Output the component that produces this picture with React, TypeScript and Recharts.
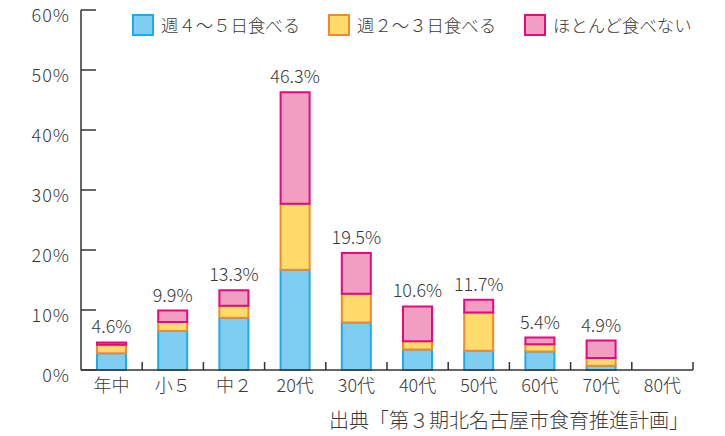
import React from 'react';
import { BarChart, Bar, XAxis, YAxis, Legend, LabelList } from 'recharts';

const categories = ['年中', '小５', '中２', '20代', '30代', '40代', '50代', '60代', '70代', '80代'];
const fourToFive = [2.8, 6.5, 8.7, 16.7, 7.9, 3.4, 3.2, 3.1, 0.7, null];
const twoToThree = [1.4, 1.5, 2.0, 11.0, 4.8, 1.4, 6.4, 1.2, 1.3, null];
const rarely = [0.4, 1.9, 2.6, 18.6, 6.8, 5.8, 2.1, 1.1, 2.9, null];
const totals = [4.6, 9.9, 13.3, 46.3, 19.5, 10.6, 11.7, 5.4, 4.9, null];
const yTicks = [0, 10, 20, 30, 40, 50, 60];

const seriesNames = ['週４～５日食べる', '週２～３日食べる', 'ほとんど食べない'];
const fills = ['#80cdf2', '#ffdb6c', '#f19ec2'];
const strokes = ['#1eaae7', '#f08a2c', '#e5097f'];
const sourceNote = '出典「第３期北名古屋市食育推進計画」';

const data = categories.map((name, i) => ({
  name,
  a: fourToFive[i],
  b: twoToThree[i],
  c: rarely[i],
  total: totals[i],
}));

const W = 725;
const H = 436;
const margin = { top: 10, right: 32, left: 0, bottom: 36 };
const yAxisWidth = 81;
const band = (W - margin.left - margin.right - yAxisWidth) / categories.length;

const FONT = '"Noto Sans CJK JP", "Noto Sans", sans-serif';
const WEIGHT = 300;
const TEXT = '#3a3a3a';
const AXIS = '#333';

const YTick = (props: any) => {
  const { x, y, payload } = props;
  const gap = 11;
  return (
    <g>
      <line x1={x + gap} x2={x + gap + 15} y1={y} y2={y} stroke={AXIS} strokeWidth={1.5} />
      <text
        x={x}
        y={y}
        dy={12}
        textAnchor="end"
        fill={TEXT}
        fontSize={18}
        letterSpacing={1}
        fontWeight={WEIGHT}
        fontFamily={FONT}
      >
        {payload.value}%
      </text>
    </g>
  );
};

const XTick = (props: any) => {
  const { x, y, payload } = props;
  return (
    <g>
      <line x1={x + band / 2} x2={x + band / 2} y1={y} y2={y - 8} stroke={AXIS} strokeWidth={1.5} />
      <text x={x} y={y + 22} textAnchor="middle" fill={TEXT} fontSize={18} fontWeight={WEIGHT} fontFamily={FONT}>
        {payload.value}
      </text>
    </g>
  );
};

const LegendContent = () => (
  <div style={{ display: 'flex', fontFamily: FONT, fontWeight: WEIGHT, fontSize: 17.4, color: TEXT, whiteSpace: 'nowrap' }}>
    {seriesNames.map((n, i) => (
      <div key={n} style={{ display: 'flex', alignItems: 'center', width: 196 }}>
        <span
          style={{
            display: 'inline-block',
            width: 18,
            height: 18,
            background: fills[i],
            border: `2px solid ${strokes[i]}`,
            marginRight: 7,
          }}
        />
        <span>{n}</span>
      </div>
    ))}
  </div>
);

export default function App() {
  return (
    <div style={{ position: 'absolute', left: 0, top: 0, width: W, height: H, background: '#fff' }}>
      <BarChart width={W} height={H} data={data} margin={margin} barSize={29}>
        <XAxis
          dataKey="name"
          height={30}
          tickSize={0}
          tickMargin={0}
          tick={<XTick />}
          axisLine={{ stroke: AXIS, strokeWidth: 1.5 }}
          tickLine={false}
          interval={0}
        />
        <YAxis
          width={yAxisWidth}
          domain={[0, 60]}
          ticks={yTicks}
          tickSize={0}
          tickMargin={11}
          tick={<YTick />}
          axisLine={{ stroke: AXIS, strokeWidth: 1.5 }}
          tickLine={false}
        />
        <Legend
          verticalAlign="middle"
          align="center"
          content={<LegendContent />}
          wrapperStyle={{ top: 12, left: 132, width: 600 }}
        />
        <Bar dataKey="a" stackId="s" fill={fills[0]} stroke={strokes[0]} strokeWidth={2} isAnimationActive={false} />
        <Bar dataKey="b" stackId="s" fill={fills[1]} stroke={strokes[1]} strokeWidth={2} isAnimationActive={false} />
        <Bar dataKey="c" stackId="s" fill={fills[2]} stroke={strokes[2]} strokeWidth={2} isAnimationActive={false}>
          <LabelList
            dataKey="total"
            position="top"
            offset={9}
            fill={TEXT}
            fontSize={18}
            fontWeight={WEIGHT}
            fontFamily={FONT}
            formatter={(v: any) => (v == null ? '' : `${Number(v).toFixed(1)}%`)}
          />
        </Bar>
      </BarChart>
      <div
        style={{
          position: 'absolute',
          right: 36,
          top: 405,
          fontFamily: FONT,
          fontWeight: WEIGHT,
          fontSize: 20,
          color: TEXT,
          whiteSpace: 'nowrap',
        }}
      >
        {sourceNote}
      </div>
    </div>
  );
}
